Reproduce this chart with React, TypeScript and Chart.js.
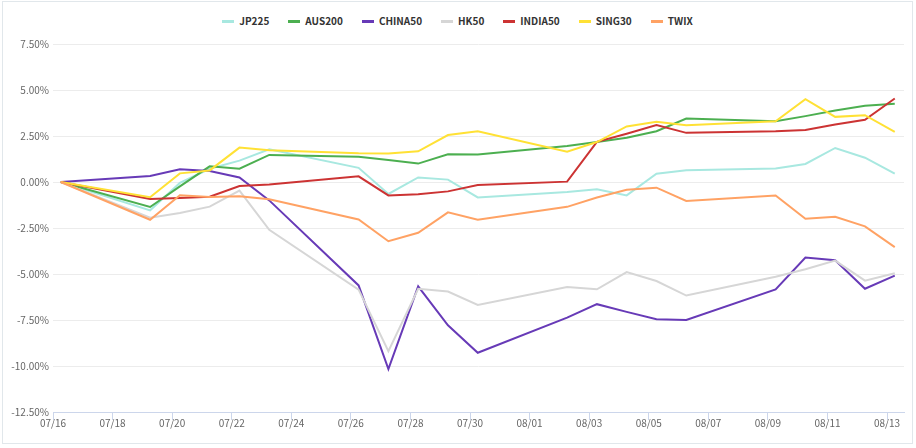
import React, { useEffect, useRef } from "react";
import { Chart, registerables } from "chart.js";

Chart.register(...registerables);

// ---- data ----
const dates = [
  "07/16", "07/19", "07/20", "07/21", "07/22", "07/23", "07/26", "07/27", "07/28", "07/29", "07/30",
  "08/02", "08/03", "08/04", "08/05", "08/06", "08/09", "08/10", "08/11", "08/12", "08/13",
];
const xTickLabels = [
  "07/16", "07/18", "07/20", "07/22", "07/24", "07/26", "07/28", "07/30",
  "08/01", "08/03", "08/05", "08/07", "08/09", "08/11", "08/13",
];
const yTickValues = [7.5, 5, 2.5, 0, -2.5, -5, -7.5, -10, -12.5];

const seriesNames = ["JP225", "AUS200", "CHINA50", "HK50", "INDIA50", "SING30", "TWIX"];
const seriesColors = ["#a8e8e0", "#4caf50", "#673ab7", "#d6d6d6", "#cc3333", "#ffe135", "#ffa264"];

const jp225 = [0, -1.54, -0.05, 0.72, 1.16, 1.78, 0.77, -0.65, 0.25, 0.13, -0.84, -0.55, -0.39, -0.73, 0.45, 0.64, 0.73, 0.98, 1.85, 1.32, 0.45];
const aus200 = [0, -1.36, -0.24, 0.85, 0.72, 1.47, 1.37, 1.2, 1.0, 1.51, 1.49, 1.96, 2.17, 2.4, 2.76, 3.45, 3.3, 3.58, 3.88, 4.14, 4.25];
const china50 = [0, 0.33, 0.69, 0.6, 0.25, -1.0, -5.62, -10.17, -5.67, -7.79, -9.28, -7.37, -6.64, -7.06, -7.46, -7.5, -5.84, -4.11, -4.25, -5.8, -5.09];
const hk50 = [0, -1.94, -1.68, -1.34, -0.47, -2.6, -5.85, -9.19, -5.8, -5.95, -6.68, -5.71, -5.83, -4.9, -5.38, -6.17, -5.15, -4.74, -4.27, -5.36, -4.96];
const india50 = [0, -0.92, -0.87, -0.8, -0.22, -0.14, 0.31, -0.73, -0.67, -0.51, -0.16, 0.02, 2.18, 2.62, 3.09, 2.67, 2.76, 2.83, 3.12, 3.38, 4.54];
const sing30 = [0, -0.83, 0.47, 0.63, 1.87, 1.72, 1.56, 1.55, 1.67, 2.55, 2.76, 1.64, 2.17, 3.02, 3.28, 3.09, 3.3, 4.5, 3.54, 3.63, 2.72];
const twix = [0, -2.05, -0.72, -0.82, -0.78, -0.94, -2.04, -3.22, -2.76, -1.65, -2.05, -1.35, -0.84, -0.42, -0.31, -1.03, -0.73, -2.0, -1.89, -2.41, -3.54];

const seriesValues = [jp225, aus200, china50, hk50, india50, sing30, twix];

// ---- helpers ----
const TIME_OFFSET = 0.26; // data stamped a few hours after midnight
const X_MAX = 28.57;
function dayIndex(label: string): number {
  const [m, d] = label.split("/").map(Number);
  return m === 7 ? d - 16 : 31 - 16 + d;
}

const axisFont = { family: "'Noto Sans CJK SC', 'Liberation Sans', sans-serif", size: 10 };

export default function App() {
  const ref = useRef<HTMLCanvasElement>(null);

  useEffect(() => {
    const n = seriesNames.length;
    const chart = new Chart(ref.current as HTMLCanvasElement, {
      type: "line",
      data: {
        datasets: seriesNames.map((name, i) => ({
          label: name,
          data: seriesValues[i].map((v, j) => ({ x: dayIndex(dates[j]) + TIME_OFFSET, y: v })),
          borderColor: seriesColors[i],
          backgroundColor: seriesColors[i],
          borderWidth: 2,
          pointRadius: 0,
          pointHoverRadius: 0,
          tension: 0,
          fill: false,
          order: n - i,
        })),
      },
      options: {
        animation: false,
        responsive: true,
        maintainAspectRatio: false,
        layout: { padding: { top: 42, right: 8, bottom: 0, left: 0 } },
        plugins: { legend: { display: false }, tooltip: { enabled: false } },
        scales: {
          x: {
            type: "linear",
            min: 0,
            max: X_MAX,
            afterFit: (s: any) => {
              s.height = 31;
            },
            afterBuildTicks: (s: any) => {
              s.ticks = xTickLabels.map((_, i) => ({ value: i * 2 }));
            },
            grid: {
              display: true,
              drawOnChartArea: false,
              drawTicks: true,
              tickLength: 8,
              color: "#ccd6eb",
            },
            border: { display: true, color: "#ccd6eb" },
            ticks: {
              autoSkip: false,
              maxRotation: 0,
              padding: -3,
              color: "#666",
              font: axisFont,
              callback: (_v: any, i: number) => xTickLabels[i],
            },
          },
          y: {
            min: -12.5,
            max: 7.5,
            afterFit: (s: any) => {
              s.width = 50;
            },
            afterBuildTicks: (s: any) => {
              s.ticks = yTickValues.map((v) => ({ value: v }));
            },
            grid: { color: "#ececec", drawTicks: false, lineWidth: 1 },
            border: { display: false },
            ticks: {
              padding: 4,
              color: "#666",
              font: axisFont,
              callback: (v: any) => Number(v).toFixed(2) + "%",
            },
          },
        },
      },
    });
    return () => chart.destroy();
  }, []);

  return (
    <div
      style={{
        position: "absolute",
        left: 2,
        top: 1,
        width: 911,
        height: 443,
        boxSizing: "border-box",
        border: "1px solid #e1e7eb",
        background: "#fff",
      }}
    >
      <div
        style={{
          position: "absolute",
          left: 0,
          right: 0,
          top: 13,
          height: 12,
          display: "flex",
          justifyContent: "center",
          alignItems: "center",
          gap: 19,
        }}
      >
        {seriesNames.map((name, i) => (
          <div key={name} style={{ display: "flex", alignItems: "center" }}>
            <span
              style={{ display: "inline-block", width: 12, height: 3, background: seriesColors[i], marginRight: 5 }}
            />
            <span
              style={{
                fontFamily: "'Noto Sans CJK SC', 'Liberation Sans', sans-serif",
                fontWeight: 700,
                fontSize: 10,
                lineHeight: "12px",
                color: "#333",
              }}
            >
              {name}
            </span>
          </div>
        ))}
      </div>
      <div style={{ position: "absolute", left: 0, top: 0, width: 909, height: 441 }}>
        <canvas ref={ref} />
      </div>
    </div>
  );
}
